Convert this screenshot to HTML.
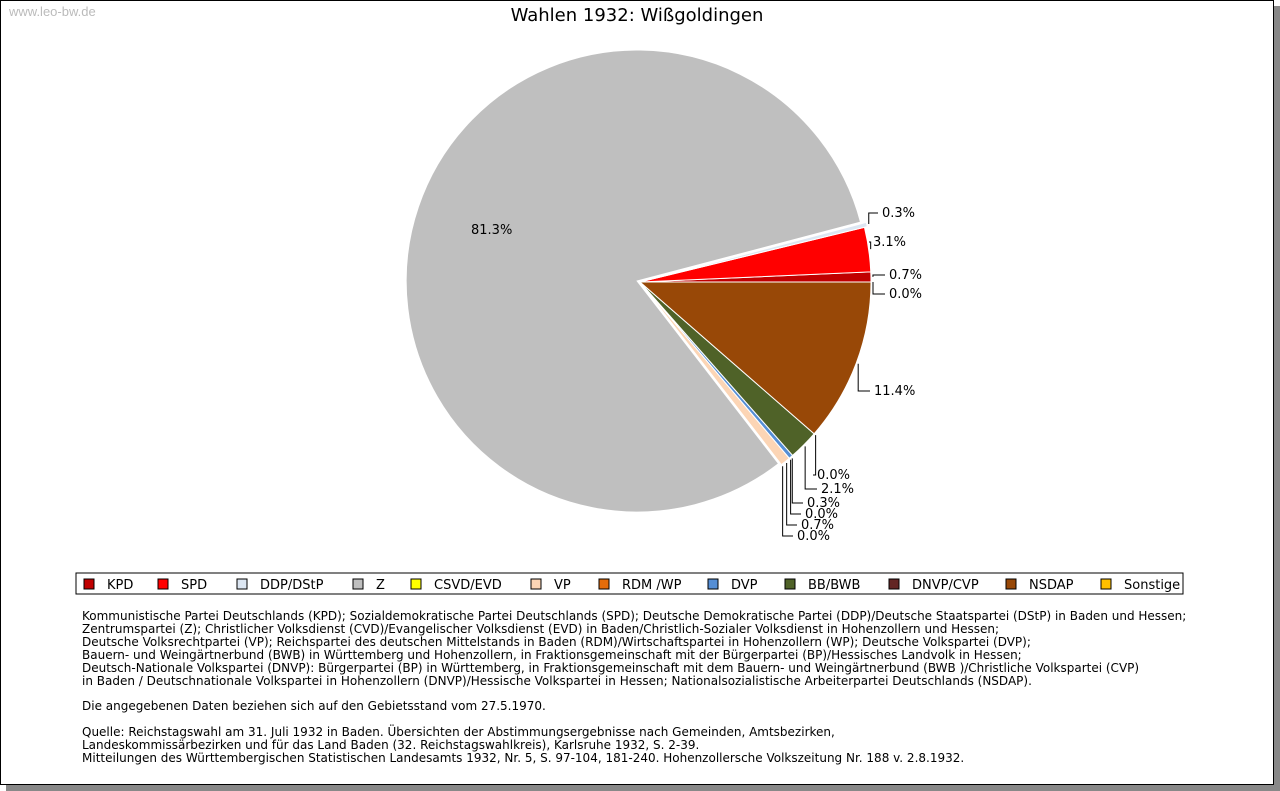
<!DOCTYPE html>
<html><head><meta charset="utf-8"><style>
body{margin:0;width:1280px;height:791px;background:#fff;overflow:hidden;font-family:"DejaVu Sans","Liberation Sans",sans-serif;}
#frame{position:absolute;left:0;top:0;width:1272px;height:783px;border:1px solid #000;box-shadow:6px 6px 0 #888;background:#fff;}
#wm{position:absolute;left:9px;top:4px;font-family:"Liberation Sans",sans-serif;font-size:13px;color:#bbb;}
#notes{position:absolute;left:82px;top:610px;font-size:12px;line-height:12.9px;color:#000;white-space:pre;}
</style></head><body>
<div id="frame"></div>
<div id="wm">www.leo-bw.de</div>
<svg id="chart" width="1280" height="791" style="position:absolute;left:0;top:0">
<text x="637" y="21" text-anchor="middle" font-size="18" font-family="DejaVu Sans, sans-serif">Wahlen 1932: Wißgoldingen</text>
<g id="slices"></g><g id="labels"></g>
<rect x="76" y="573" width="1107" height="21" fill="#fff" stroke="#000"/>
<g id="legend"></g>
</svg>
<div id="notes">Kommunistische Partei Deutschlands (KPD); Sozialdemokratische Partei Deutschlands (SPD); Deutsche Demokratische Partei (DDP)/Deutsche Staatspartei (DStP) in Baden und Hessen;
Zentrumspartei (Z); Christlicher Volksdienst (CVD)/Evangelischer Volksdienst (EVD) in Baden/Christlich-Sozialer Volksdienst in Hohenzollern und Hessen;
Deutsche Volksrechtpartei (VP); Reichspartei des deutschen Mittelstands in Baden (RDM)/Wirtschaftspartei in Hohenzollern (WP); Deutsche Volkspartei (DVP);
Bauern- und Weingärtnerbund (BWB) in Württemberg und Hohenzollern, in Fraktionsgemeinschaft mit der Bürgerpartei (BP)/Hessisches Landvolk in Hessen;
Deutsch-Nationale Volkspartei (DNVP): Bürgerpartei (BP) in Württemberg, in Fraktionsgemeinschaft mit dem Bauern- und Weingärtnerbund (BWB )/Christliche Volkspartei (CVP)
in Baden / Deutschnationale Volkspartei in Hohenzollern (DNVP)/Hessische Volkspartei in Hessen; Nationalsozialistische Arbeiterpartei Deutschlands (NSDAP).

Die angegebenen Daten beziehen sich auf den Gebietsstand vom 27.5.1970.

Quelle: Reichstagswahl am 31. Juli 1932 in Baden. Übersichten der Abstimmungsergebnisse nach Gemeinden, Amtsbezirken,
Landeskommissärbezirken und für das Land Baden (32. Reichstagswahlkreis), Karlsruhe 1932, S. 2-39.
Mitteilungen des Württembergischen Statistischen Landesamts 1932, Nr. 5, S. 97-104, 181-240. Hohenzollersche Volkszeitung Nr. 188 v. 2.8.1932.</div>
<script>
const parties = ["KPD","SPD","DDP/DStP","Z","CSVD/EVD","VP","RDM /WP","DVP","BB/BWB","DNVP/CVP","NSDAP","Sonstige"];
const shares = [0.7,3.1,0.3,81.3,0.0,0.7,0.0,0.3,2.1,0.0,11.4,0.0];
const colors = ["#c00000","#ff0000","#dce6f2","#bfbfbf","#ffff00","#fcd5b5","#e46c0a","#558ed5","#4f6228","#632523","#984807","#ffc000"];
// label layout (pixel positions of label text, not data)
const labelPos = [[889,279],[873,246],[882,217],[471,234],[797,540],[801,529],[805,518],[807,507],[821,493],[817,479],[874,395],[889,298]];
const legendX = [84,158,237,353,411,531,599,708,785,889,1006,1101];
const NS="http://www.w3.org/2000/svg";
const cx=640, cy=282, r=231;
const total=shares.reduce((a,b)=>a+b,0);
const sG=document.getElementById('slices'), lG=document.getElementById('labels'), gG=document.getElementById('legend');
function pt(a,rr,ox,oy){return [cx+ox+rr*Math.cos(a), cy+oy-rr*Math.sin(a)];}
let acc=0;
shares.forEach((v,i)=>{
  const a0=acc/total*2*Math.PI; acc+=v; const a1=acc/total*2*Math.PI;
  const mid=(a0+a1)/2;
  const ex = parties[i]==="Z"||parties[i]==="DDP/DStP" ? 3:0;
  const ox=ex*Math.cos(mid), oy=-ex*Math.sin(mid);
  if(v>0){
    const p0=pt(a0,r,ox,oy), p1=pt(a1,r,ox,oy);
    const large=(a1-a0)>Math.PI?1:0;
    const p=document.createElementNS(NS,'path');
    p.setAttribute('d',`M${cx+ox},${cy+oy} L${p0[0]},${p0[1]} A${r},${r} 0 ${large} 0 ${p1[0]},${p1[1]} Z`);
    p.setAttribute('fill',colors[i]); p.setAttribute('stroke','#fff'); p.setAttribute('stroke-width','1');
    
    
    sG.appendChild(p);
  }
  const [lx,ly]=labelPos[i];
  const t=document.createElementNS(NS,'text');
  t.setAttribute('x',lx); t.setAttribute('y',ly); t.setAttribute('font-size','13');
  t.textContent=v.toFixed(1)+'%';
  
  
  lG.appendChild(t);
  if(parties[i]!=="Z"){
    const e=pt(mid,r+2,ox,oy);
    const ln=document.createElementNS(NS,'polyline');
    const yy=ly-4;
    ln.setAttribute('points',`${e[0]},${e[1]} ${e[0]},${yy} ${lx-4},${yy}`);
    ln.setAttribute('fill','none'); ln.setAttribute('stroke','#000'); ln.setAttribute('stroke-width','1');
    
    
    lG.appendChild(ln);
  }
  const sw=document.createElementNS(NS,'rect');
  sw.setAttribute('x',legendX[i]); sw.setAttribute('y',579); sw.setAttribute('width',10); sw.setAttribute('height',10);
  sw.setAttribute('fill',colors[i]); sw.setAttribute('stroke','#000'); sw.setAttribute('stroke-width','1');
  
  
  gG.appendChild(sw);
  const lt=document.createElementNS(NS,'text');
  lt.setAttribute('x',legendX[i]+23); lt.setAttribute('y',589); lt.setAttribute('font-size','13');
  lt.textContent=parties[i];
  
  
  gG.appendChild(lt);
});
</script>
</body></html>
